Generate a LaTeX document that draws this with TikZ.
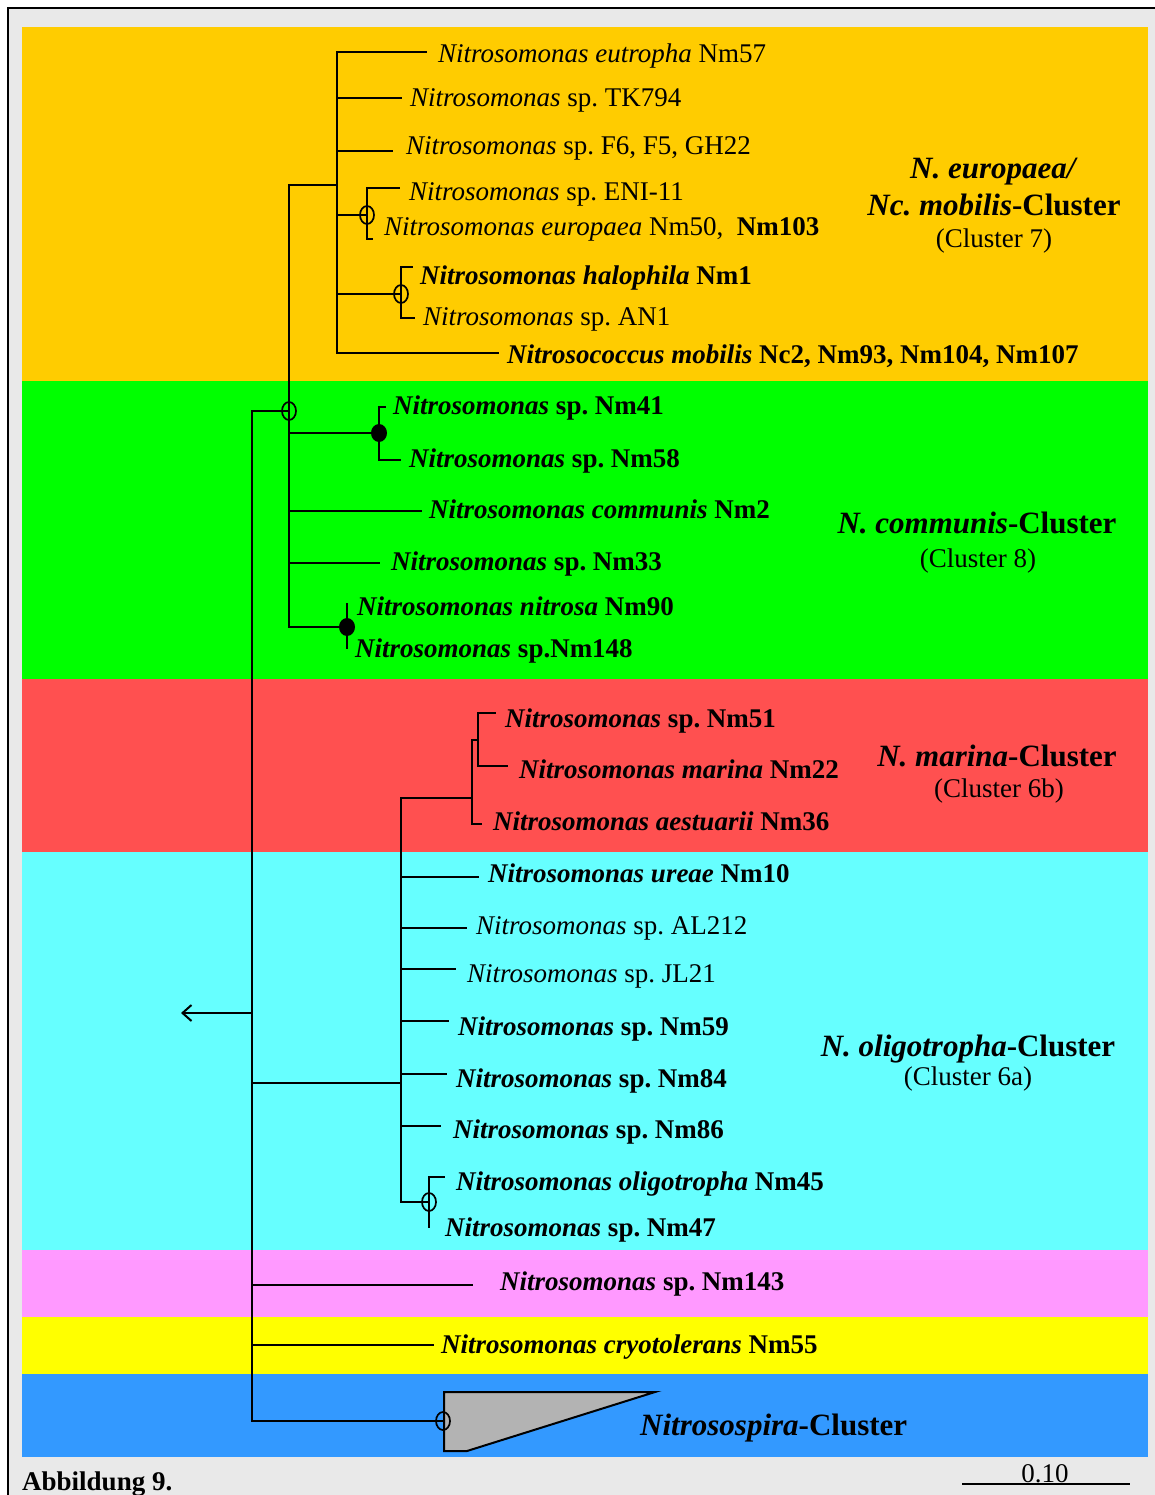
\documentclass[tikz,border=0pt]{standalone}
\usepackage{fontspec}
\setmainfont{Liberation Serif}
\usepackage{xcolor}
\usepackage{tikz}
\usetikzlibrary{arrows.meta, shapes.geometric}

\definecolor{bggray}{HTML}{E9E9E9}
\definecolor{band7}{HTML}{FFCC00}
\definecolor{band8}{HTML}{00FF00}
\definecolor{band6b}{HTML}{FF5050}
\definecolor{band6a}{HTML}{66FFFF}
\definecolor{bandpink}{HTML}{FF99FF}
\definecolor{bandyellow}{HTML}{FFFF00}
\definecolor{bandspira}{HTML}{3399FF}
\definecolor{trigray}{HTML}{B3B3B3}

\begin{document}
\frenchspacing
\begin{tikzpicture}[x=1pt, y=-1pt, every node/.style={font=\fontsize{27}{32}\selectfont, inner sep=0pt}]
    \tikzstyle{branch} = [line width=2pt]
    \tikzstyle{taxon} = [anchor=base west]
    \tikzstyle{clustername} = [anchor=base, font=\fontsize{31}{36}\selectfont\bfseries]
    \tikzstyle{clusternum} = [anchor=base]
    \tikzstyle{opennode} = [ellipse, draw, line width=1.7pt, minimum width=14pt, minimum height=18pt]
    \tikzstyle{fullnode} = [ellipse, fill, minimum width=16pt, minimum height=18pt]

    \useasboundingbox (0,0) rectangle (1154,1495);
    \fill[white] (0,0) rectangle (1154,1495);
    \filldraw[fill=bggray, draw=black, line width=1.5pt] (8,8) rectangle (1180,1520);

    % cluster bands
    \fill[band7] (22,27) rectangle (1148,381);
    \fill[band8] (22,381) rectangle (1148,679);
    \fill[band6b] (22,679) rectangle (1148,852);
    \fill[band6a] (22,852) rectangle (1148,1250);
    \fill[bandpink] (22,1250) rectangle (1148,1317);
    \fill[bandyellow] (22,1317) rectangle (1148,1374);
    \fill[bandspira] (22,1374) rectangle (1148,1457);

    % inner nodes of the tree
    \coordinate (rtop) at (252,411);
    \coordinate (rbot) at (252,1421);
    \coordinate (rmid) at (252,1013);
    \coordinate (rout) at (181,1013);
    \coordinate (n78) at (289,411);
    \coordinate (n7) at (337,185);
    \coordinate (n7a) at (367,215);
    \coordinate (n7b) at (401,294);
    \coordinate (n8a) at (379,433);
    \coordinate (n8b) at (347,627);
    \coordinate (n6) at (401,1083);
    \coordinate (n6b) at (472,798);
    \coordinate (n6b1) at (478,740);
    \coordinate (n6a1) at (429,1202);
    \coordinate (nsp) at (443,1421);

    % branch tips
    \coordinate (t57) at (427,52);
    \coordinate (ttk) at (402,98);
    \coordinate (tf6) at (393,151);
    \coordinate (teni) at (400,188);
    \coordinate (t103) at (373,239);
    \coordinate (thalo) at (413,267);
    \coordinate (tan1) at (415,318);
    \coordinate (tmob) at (499,353);
    \coordinate (t41) at (386,407);
    \coordinate (t58) at (401,460);
    \coordinate (tcomm) at (422,511);
    \coordinate (t33) at (380,563);
    \coordinate (t90) at (347,603);
    \coordinate (t148) at (347,649);
    \coordinate (t51) at (496,713);
    \coordinate (t22) at (508,766);
    \coordinate (t36) at (482,824);
    \coordinate (tureae) at (479,877);
    \coordinate (tal) at (467,928);
    \coordinate (tjl) at (456,969);
    \coordinate (t59) at (449,1021);
    \coordinate (t84) at (447,1074);
    \coordinate (t86) at (441,1126);
    \coordinate (t45) at (445,1177);
    \coordinate (t47) at (429,1228);
    \coordinate (t143) at (473,1285);
    \coordinate (tcryo) at (434,1345);

    % root
    \draw[branch] (n78) -- (rtop) -- (rbot) -- (nsp);
    \draw[branch, -{Straight Barb[length=9pt, width=16pt]}] (rmid) -- (rout);
    \draw[branch] (rtop) |- (n6);
    \draw[branch] (rtop) |- (t143);
    \draw[branch] (rtop) |- (tcryo);

    % clusters 7 and 8
    \draw[branch] (n78) |- (n7);
    \draw[branch] (n78) |- (n8a);
    \draw[branch] (n78) |- (tcomm);
    \draw[branch] (n78) |- (t33);
    \draw[branch] (n78) |- (n8b);
    \draw[branch] (n7) |- (t57);
    \draw[branch] (n7) |- (ttk);
    \draw[branch] (n7) |- (tf6);
    \draw[branch] (n7) |- (n7a);
    \draw[branch] (n7) |- (n7b);
    \draw[branch] (n7) |- (tmob);
    \draw[branch] (n7a) |- (teni);
    \draw[branch] (n7a) |- (t103);
    \draw[branch] (n7b) |- (thalo);
    \draw[branch] (n7b) |- (tan1);
    \draw[branch] (n8a) |- (t41);
    \draw[branch] (n8a) |- (t58);
    \draw[branch] (t90) -- (t148);

    % clusters 6a and 6b
    \draw[branch] (n6) |- (n6b);
    \draw[branch] (n6) |- (tureae);
    \draw[branch] (n6) |- (tal);
    \draw[branch] (n6) |- (tjl);
    \draw[branch] (n6) |- (t59);
    \draw[branch] (n6) |- (t84);
    \draw[branch] (n6) |- (t86);
    \draw[branch] (n6) |- (n6a1);
    \draw[branch] (n6b) |- (n6b1);
    \draw[branch] (n6b) |- (t36);
    \draw[branch] (n6b1) |- (t51);
    \draw[branch] (n6b1) |- (t22);
    \draw[branch] (n6a1) |- (t45);
    \draw[branch] (n6a1) -- (t47);

    % collapsed Nitrosospira clade
    \coordinate (sptop) at (444,1392);
    \coordinate (sptip) at (655,1392);
    \coordinate (spbot) at (467,1451);
    \coordinate (spbase) at (444,1451);
    \filldraw[fill=trigray, line width=2pt] (sptop) -- (sptip) -- (spbot) -- (spbase) -- cycle;

    % support marks
    \node[opennode] (o78) at (n78) {};
    \node[opennode] (o7a) at (n7a) {};
    \node[opennode] (o7b) at (n7b) {};
    \node[fullnode] (f8a) at (n8a) {};
    \node[fullnode] (f8b) at (n8b) {};
    \node[opennode] (o6a1) at (n6a1) {};
    \node[opennode] (osp) at (nsp) {};

    % taxa
    \node[taxon] (eutropha) at (438,63) {\textit{Nitrosomonas eutropha} Nm57};
    \node[taxon] (tk794) at (410,107) {\textit{Nitrosomonas} sp. TK794};
    \node[taxon] (f6) at (406,155) {\textit{Nitrosomonas} sp. F6, F5, GH22};
    \node[taxon] (eni11) at (409,201) {\textit{Nitrosomonas} sp. ENI-11};
    \node[taxon] (europaea) at (384,236) {\textit{Nitrosomonas europaea} Nm50,\ \ \textbf{Nm103}};
    \node[taxon] (halophila) at (420,285) {\textbf{\textit{Nitrosomonas halophila} Nm1}};
    \node[taxon] (an1) at (423,326) {\textit{Nitrosomonas} sp. AN1};
    \node[taxon] (mobilis) at (507,363) {\textbf{\textit{Nitrosococcus mobilis} Nc2, Nm93, Nm104, Nm107}};
    \node[taxon] (nm41) at (393,414) {\textbf{\textit{Nitrosomonas} sp. Nm41}};
    \node[taxon] (nm58) at (409,467) {\textbf{\textit{Nitrosomonas} sp. Nm58}};
    \node[taxon] (communis) at (429,518) {\textbf{\textit{Nitrosomonas communis} Nm2}};
    \node[taxon] (nm33) at (391,570) {\textbf{\textit{Nitrosomonas} sp. Nm33}};
    \node[taxon] (nitrosa) at (357,615) {\textbf{\textit{Nitrosomonas nitrosa} Nm90}};
    \node[taxon] (nm148) at (355,657) {\textbf{\textit{Nitrosomonas} sp.Nm148}};
    \node[taxon] (nm51) at (505,727) {\textbf{\textit{Nitrosomonas} sp. Nm51}};
    \node[taxon] (marina) at (519,778) {\textbf{\textit{Nitrosomonas marina} Nm22}};
    \node[taxon] (aestuarii) at (493,830) {\textbf{\textit{Nitrosomonas aestuarii} Nm36}};
    \node[taxon] (ureae) at (488,882) {\textbf{\textit{Nitrosomonas ureae} Nm10}};
    \node[taxon] (al212) at (476,934) {\textit{Nitrosomonas} sp. AL212};
    \node[taxon] (jl21) at (467,982) {\textit{Nitrosomonas} sp. JL21};
    \node[taxon] (nm59) at (458,1035) {\textbf{\textit{Nitrosomonas} sp. Nm59}};
    \node[taxon] (nm84) at (456,1087) {\textbf{\textit{Nitrosomonas} sp. Nm84}};
    \node[taxon] (nm86) at (453,1138) {\textbf{\textit{Nitrosomonas} sp. Nm86}};
    \node[taxon] (oligotropha) at (456,1190) {\textbf{\textit{Nitrosomonas oligotropha} Nm45}};
    \node[taxon] (nm47) at (445,1236) {\textbf{\textit{Nitrosomonas} sp. Nm47}};
    \node[taxon] (nm143) at (500,1290) {\textbf{\textit{Nitrosomonas} sp. Nm143}};
    \node[taxon] (cryotolerans) at (441,1353) {\textbf{\textit{Nitrosomonas cryotolerans} Nm55}};
    \node[taxon, font=\fontsize{31}{36}\selectfont\bfseries] (spira) at (640,1435) {\textit{Nitrosospira}-Cluster};

    % cluster names
    \node[clustername] (c7a) at (994,179) {\textit{N. europaea/}};
    \node[clustername] (c7b) at (994,216) {\textit{Nc. mobilis}-Cluster};
    \node[clusternum] (c7c) at (994,248) {(Cluster 7)};
    \node[clustername] (c8a) at (977,533) {\textit{N. communis}-Cluster};
    \node[clusternum] (c8b) at (978,567) {(Cluster 8)};
    \node[clustername] (c6ba) at (997,766) {\textit{N. marina}-Cluster};
    \node[clusternum] (c6bb) at (999,797) {(Cluster 6b)};
    \node[clustername] (c6aa) at (968,1056) {\textit{N. oligotropha}-Cluster};
    \node[clusternum] (c6ab) at (968,1085) {(Cluster 6a)};

    % caption and scale bar
    \node[taxon, font=\fontsize{27}{32}\selectfont\bfseries] (caption) at (22,1490) {Abbildung 9.};
    \coordinate (sbl) at (962,1484);
    \coordinate (sbr) at (1130,1484);
    \draw[line width=2pt] (sbl) -- (sbr);
    \node[anchor=base] (sblabel) at (1045,1482) {0.10};
\end{tikzpicture}
\end{document}
